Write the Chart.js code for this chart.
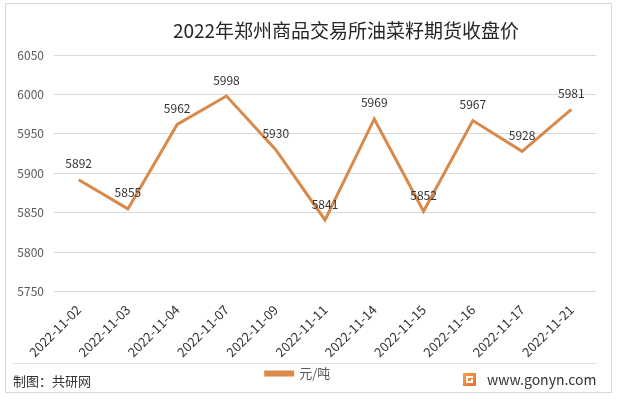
<!DOCTYPE html>
<html>
<head>
<meta charset="utf-8">
<script src="https://cdn.jsdelivr.net/npm/chart.js@4.4.0/dist/chart.umd.min.js"></script>
<style>
  html, body { margin: 0; padding: 0; background: #fff; }
  #wrap { width: 617px; height: 399px; position: relative; }
</style>
</head>
<body>
<div id="wrap"><canvas id="grafica" width="617" height="399"></canvas></div>
<script>
const fechas = ['2022-11-02', '2022-11-03', '2022-11-04', '2022-11-07', '2022-11-09', '2022-11-11',
                '2022-11-14', '2022-11-15', '2022-11-16', '2022-11-17', '2022-11-21'];
const precios = [5892, 5855, 5962, 5998, 5930, 5841, 5969, 5852, 5967, 5928, 5981];
const nombreSerie = '元/吨';
const titulo = '2022年郑州商品交易所油菜籽期货收盘价';
const fuente = '制图：共研网';
const sitio = 'www.gonyn.com';

const naranja = '#D9894A';
const fam = '"Noto Sans CJK SC", "Noto Sans", sans-serif';

// etiquetas de valor encima de cada punto
const etiquetas = {
    id: 'etiquetas',
    afterDatasetsDraw(chart) {
        const ctx = chart.ctx;
        const meta = chart.getDatasetMeta(0);
        ctx.save();
        ctx.font = '12px ' + fam;
        ctx.fillStyle = '#333';
        ctx.textAlign = 'center';
        ctx.textBaseline = 'middle';
        meta.data.forEach((p, i) => {
            ctx.fillText(precios[i], p.x, p.y - 16);
        });
        ctx.restore();
    }
};

// marco, titulo y pie
const adornos = {
    id: 'adornos',
    afterDraw(chart) {
        const ctx = chart.ctx;
        ctx.save();
        ctx.strokeStyle = '#d9d9d9';
        ctx.lineWidth = 1;
        ctx.strokeRect(5.5, 3.5, 606, 389);

        ctx.beginPath();
        ctx.moveTo(13, 363.5);
        ctx.lineTo(597, 363.5);
        ctx.strokeStyle = '#e3e3e3';
        ctx.stroke();

        ctx.fillStyle = '#262626';
        ctx.font = '19px ' + fam;
        ctx.textAlign = 'center';
        ctx.textBaseline = 'middle';
        ctx.fillText(titulo, 346, 31);

        ctx.font = '13px ' + fam;
        ctx.textAlign = 'left';
        ctx.fillStyle = '#333';
        ctx.fillText(fuente, 13, 381);
        ctx.font = '14px ' + fam;
        ctx.fillText(sitio, 487, 380);

        // logo
        const g = ctx.createLinearGradient(463, 373, 475, 386);
        g.addColorStop(0, '#F9A23C');
        g.addColorStop(1, '#F06A3A');
        ctx.fillStyle = g;
        ctx.fillRect(463, 373, 13, 13);
        ctx.fillStyle = '#fff';
        ctx.fillRect(466, 376, 7, 2);
        ctx.fillRect(466, 376, 2, 7);
        ctx.fillRect(466, 381, 7, 2);
        ctx.fillRect(471, 379, 2, 4);
        ctx.restore();
    }
};

const ctx = document.getElementById('grafica').getContext('2d');
const grafica = new Chart(ctx, {
    type: 'line',
    data: {
        labels: fechas,
        datasets: [{
            label: nombreSerie,
            data: precios,
            borderColor: naranja,
            backgroundColor: naranja,
            borderWidth: 3,
            pointRadius: 0,
            tension: 0
        }]
    },
    options: {
        responsive: false,
        animation: false,
        layout: { padding: { left: 0, right: 21, top: 55, bottom: 9 } },
        plugins: {
            title: { display: false },
            tooltip: { enabled: false },
            legend: {
                position: 'bottom',
                labels: {
                    boxWidth: 27,
                    boxHeight: 3,
                    padding: 5,
                    color: '#595959',
                    font: { family: fam, size: 13 }
                }
            }
        },
        scales: {
            x: {
                offset: true,
                grid: { display: false },
                border: { display: false },
                ticks: {
                    maxRotation: 45,
                    minRotation: 45,
                    color: '#333',
                    font: { family: fam, size: 13 },
                    padding: 2
                }
            },
            y: {
                min: 5750,
                max: 6050,
                afterFit(scale) { scale.width = 54; },
                grid: { color: '#d9d9d9', drawTicks: false },
                border: { display: false },
                ticks: {
                    stepSize: 50,
                    color: '#595959',
                    padding: 10,
                    font: { family: fam, size: 12 },
                    callback: (v) => String(v)
                }
            }
        }
    },
    plugins: [etiquetas, adornos]
});
</script>
</body>
</html>
